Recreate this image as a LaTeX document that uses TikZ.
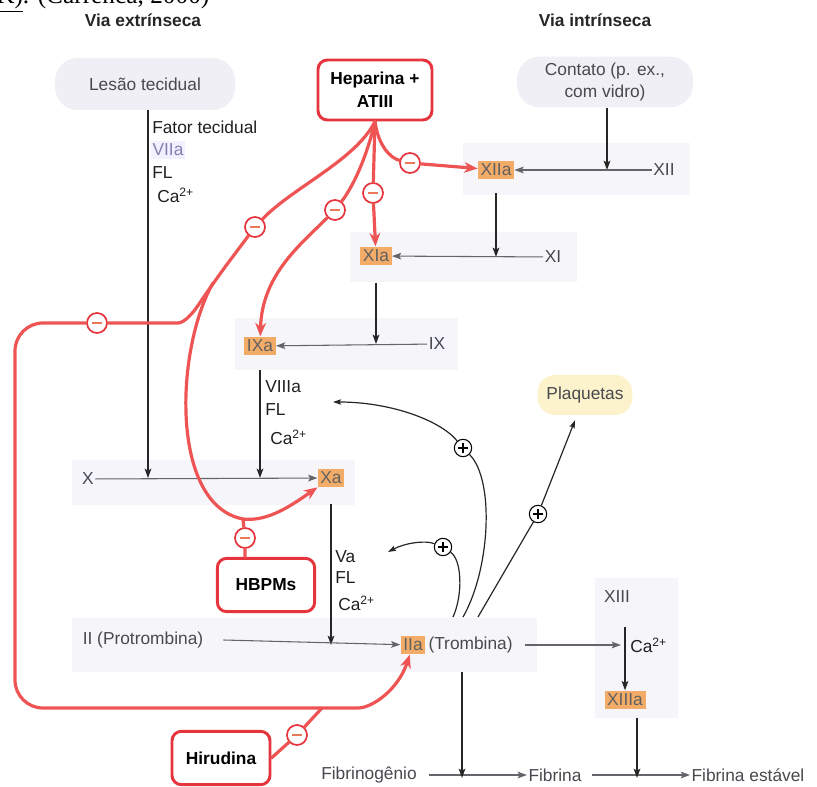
\documentclass[tikz,border=0pt]{standalone}
\usepackage{fontspec}
\setmainfont{Liberation Sans}
\newfontfamily\citefont{Liberation Serif}
\usepackage{xcolor}
\usetikzlibrary{arrows.meta, positioning, calc}

\definecolor{hepred}{RGB}{230,52,62}
\definecolor{inhred}{RGB}{238,84,84}
\definecolor{dashred}{RGB}{236,120,90}
\definecolor{facorange}{RGB}{243,172,104}
\definecolor{panelgray}{RGB}{246,246,250}
\definecolor{blobgray}{RGB}{240,239,246}
\definecolor{plaqyellow}{RGB}{252,243,205}
\definecolor{txtgray}{RGB}{72,72,78}
\definecolor{linegray}{RGB}{100,100,106}
\definecolor{vlilac}{RGB}{130,130,178}

\begin{document}
\begin{tikzpicture}[x=0.75pt, y=-0.75pt, font=\fontsize{13}{16}\selectfont,
    >={Stealth[length=7pt,width=5pt,inset=1.5pt]},
    blob/.style={rectangle, rounded corners=17pt, fill=blobgray, text=txtgray, align=center},
    drug/.style={rectangle, draw=hepred, line width=2.2pt, rounded corners=7pt, fill=white, align=center, font=\fontsize{13}{17}\selectfont\bfseries},
    fac/.style={rectangle, fill=facorange, text=black!62, inner xsep=2pt, inner ysep=2.5pt},
    lab/.style={text=txtgray, inner sep=1pt},
    cof/.style={anchor=west, inner sep=0pt, text=black!88},
    title/.style={font=\fontsize{13}{16}\selectfont\bfseries, text=black!85},
    minus/.style={circle, draw=hepred, line width=1.3pt, fill=white, minimum size=15pt, inner sep=0pt,
        path picture={\draw[dashred, line width=1.3pt] ([xshift=-3.5pt]path picture bounding box.center) -- ([xshift=3.5pt]path picture bounding box.center);}},
    plus/.style={circle, draw, line width=0.8pt, fill=white, minimum size=13pt, inner sep=0pt,
        path picture={\draw[line width=0.8pt] ([xshift=-4pt]path picture bounding box.center) -- ([xshift=4pt]path picture bounding box.center)
            ([yshift=-4pt]path picture bounding box.center) -- ([yshift=4pt]path picture bounding box.center);}},
    act/.style={->, draw=linegray, line width=0.8pt},
    cascade/.style={->, draw=black!85, line width=1.1pt},
    fb/.style={-{Stealth[length=6pt,width=4pt,inset=1pt]}, draw=black!85, line width=0.9pt},
    inh/.style={draw=inhred, line width=2.4pt, line cap=round},
    inharrow/.style={inh, -{Stealth[length=10pt,width=8pt,inset=3pt]}}
  ]
  \useasboundingbox (0,0) rectangle (817,787);

  % Panels
  \fill[panelgray] (463,143) rectangle (690,195);
  \fill[panelgray] (350,232) rectangle (577,282);
  \fill[panelgray] (235,318) rectangle (458,370);
  \fill[panelgray] (72,460) rectangle (355,505);
  \fill[panelgray] (72,618) rectangle (537,672);
  \fill[panelgray] (595,578) rectangle (678,718);

  % Titles
  \node[anchor=base west, inner sep=0pt, font=\citefont\fontsize{19}{19}\selectfont] (cite) at (-4,4) {\underline{K)}. (Carrenca, 2000)};
  \node[title] (vext) at (143,20) {Via extrínseca};
  \node[title] (vint) at (595,20) {Via intrínseca};

  % Nodes
  \node[blob, minimum width=135pt, minimum height=39pt] (lesao) at (145,84) {Lesão tecidual};
  \node[drug, minimum width=85.5pt, minimum height=45pt] (hep) at (375,90) {Heparina +\\ATIII};
  \node[blob, minimum width=132pt, minimum height=38pt] (contato) at (605,82) {Contato (p. ex.,\\com vidro)};

  \node[fac] (xiia) at (496,170) {XIIa};
  \node[lab] (xii) at (664,170) {XII};
  \node[fac] (xia) at (376,256) {XIa};
  \node[lab] (xi) at (553,257) {XI};
  \node[fac] (ixa) at (260,346) {IXa};
  \node[lab, fill=blue!4] (ix) at (437,344) {IX};
  \node[lab, fill=blue!4] (xf) at (88,479) {X};
  \node[fac] (xa) at (331,478) {Xa};
  \node[lab] (ii) at (143,640) {II (Protrombina)};
  \node[fac] (iia) at (413,645) {IIa};
  \node[lab, right=1pt of iia] (tromb) {(Trombina)};
  \node[lab] (xiii) at (617,597) {XIII};
  \node[fac] (xiiia) at (625,700) {XIIIa};

  \node[blob, fill=plaqyellow, rounded corners=13pt, minimum width=71pt, minimum height=30pt] (plaq) at (585,395) {Plaquetas};
  \node[drug, minimum width=73pt, minimum height=40pt] (hbpm) at (266,585) {HBPMs};
  \node[drug, minimum width=73.5pt, minimum height=40pt] (hir) at (221,758) {Hirudina};

  \node[lab] (fbg) at (369,775) {Fibrinogênio};
  \node[lab] (fib) at (555,775) {Fibrina};
  \node[lab] (fibe) at (748,775) {Fibrina estável};

  % Cofactors
  \node[cof] (ftlab) at (152,127) {Fator tecidual};
  \node[cof, text=vlilac, fill=blue!6, inner xsep=1pt, inner ysep=2pt] (viialab) at (151,150) {VIIa\hspace{12pt}};
  \node[cof] (fl1) at (152,173) {FL};
  \node[cof] (ca1) at (157,195) {Ca\textsuperscript{2+}};
  \node[cof] (viiialab) at (265,387) {VIIIa};
  \node[cof] (fl2) at (265,410) {FL};
  \node[cof] (ca2) at (270,437) {Ca\textsuperscript{2+}};
  \node[cof] (valab) at (335,557) {Va};
  \node[cof] (fl3) at (335,578) {FL};
  \node[cof] (ca3) at (338,603) {Ca\textsuperscript{2+}};
  \node[cof] (ca4) at (630,645) {Ca\textsuperscript{2+}};

  % Junctions
  \coordinate (jx) at (148,478);
  \coordinate (jxii) at (607,170);
  \coordinate (jxiii) at (621,645);
  \coordinate (jfib) at (462,778);
  \coordinate (jfe) at (637,778);

  % Cascade arrows
  \draw[cascade] (lesao.south -| jx) -- (jx);
  \draw[act] (xf) -- (xa);
  \draw[cascade] (contato.south -| jxii) -- (jxii);
  \draw[act] (xii) -- (xiia);
  \draw[cascade] ([yshift=-10pt]xiia.south) -- (xiia.south |- xi);
  \draw[act] (xi) -- (xia);
  \draw[cascade] ([yshift=-13pt]xia.south) -- (xia.south |- ix);
  \draw[act] (ix) -- (ixa);
  \draw[cascade] ([yshift=-11pt]ixa.south) -- (ixa.south |- xa);
  \draw[cascade] ([yshift=-12pt]xa.south) -- (xa.south |- iia);
  \draw[act] ([xshift=14pt]ii.east) -- (iia);
  \draw[act] ([xshift=8pt]tromb.east) -- (jxiii);
  \draw[cascade] ([yshift=-17pt]xiii.south -| xiiia.north) -- (xiiia.north);
  \draw[act] ([xshift=8pt]fbg.east) -- (fib);
  \draw[cascade] ([yshift=-13pt]jfib |- tromb.south) -- (jfib);
  \draw[act] ([xshift=7pt]fib.east) -- (fibe);
  \draw[cascade] ([yshift=-6pt]jfe |- xiiia.south) -- (jfe);

  % Thrombin feedback
  \coordinate (t1) at (453,617);
  \coordinate (t2) at (463,617);
  \coordinate (t3) at (478,617);
  \coordinate (f1) at (388,552);
  \coordinate (f2) at (333,402);
  \node[plus] (p1) at (443,547) {};
  \node[plus] (p2) at (463,448) {};
  \node[plus] (p3) at (538,514) {};
  \draw[fb] (t1) .. controls (463,595) and (462,560) .. (p1) .. controls (425,540) and (405,543) .. (f1);
  \draw[fb] (t2) .. controls (490,570) and (495,480) .. (p2) .. controls (440,420) and (390,402) .. (f2);
  \draw[fb, shorten >=4pt] (t3) -- (p3) -- (plaq);

  % Inhibitors
  \coordinate (sp) at (213,283);
  \coordinate (jh) at (243,519);
  \coordinate (jb) at (322,708);
  \node[minus] (m1) at (410,163) {};
  \node[minus] (m2) at (373,193) {};
  \node[minus] (m3) at (335,210) {};
  \node[minus] (m4) at (255,227) {};
  \node[minus] (m5) at (97,323) {};
  \node[minus] (m6) at (245,538) {};
  \node[minus] (m7) at (297,735) {};

  \draw[inharrow] (hep.south) .. controls (378,145) and (390,158) .. (m1) -- (xiia);
  \draw[inharrow] (hep.south) -- (m2) -- (xia);
  \draw[inharrow] (hep.south) .. controls (366,160) and (352,188) .. (m3) .. controls (300,245) and (262,275) .. (ixa);
  \draw[inharrow, rounded corners=21pt] (hep.south) .. controls (356,160) and (292,188) .. (m4) -- (sp)
      .. controls (195,310) and (185,323) .. (150,323) -- (m5) -- (15,323) -- (15,708) -- (330,708)
      .. controls (372,708) and (398,690) .. (iia);
  \draw[inharrow] (sp) .. controls (175,350) and (170,505) .. (jh) .. controls (268,522) and (292,505) .. (xa);
  \draw[inh] (hbpm.north -| m6) -- (m6) -- (jh);
  \draw[inh] (hir.east) -- (m7) -- (jb);
\end{tikzpicture}
\end{document}
